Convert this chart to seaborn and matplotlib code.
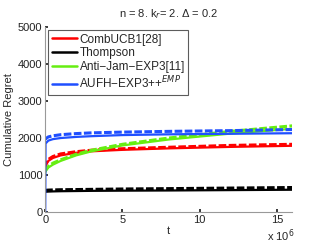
import matplotlib
matplotlib.use("Agg")
import matplotlib.pyplot as plt
import seaborn as sns
import pandas as pd
from matplotlib.lines import Line2D

sns.set_theme(style="white")
plt.rcParams['font.family'] = ['Liberation Sans', 'DejaVu Sans']

t = [0.0, 0.02, 0.2, 0.5, 1, 2, 3, 5, 8, 12, 16]

names = ["CombUCB1[28]", "Thompson", "Anti\u2212Jam\u2212EXP3[11]", "AUFH\u2212EXP3++$^{EMP}$"]
colors = ["#ff0000", "#000000", "#66ee11", "#1f4fff"]

red_solid = [1150, 1250, 1380, 1460, 1530, 1600, 1640, 1680, 1720, 1760, 1790]
red_dash = [1180, 1280, 1420, 1500, 1570, 1630, 1670, 1710, 1750, 1800, 1830]
black_solid = [540, 545, 550, 555, 560, 565, 570, 575, 580, 590, 600]
black_dash = [580, 585, 590, 595, 600, 605, 610, 620, 630, 645, 660]
green_solid = [1050, 1100, 1200, 1280, 1380, 1530, 1640, 1800, 1960, 2120, 2250]
green_dash = [1090, 1130, 1230, 1320, 1410, 1560, 1670, 1830, 2000, 2180, 2330]
blue_solid = [0, 1850, 1930, 1970, 2000, 2030, 2050, 2080, 2100, 2115, 2130]
blue_dash = [1950, 1980, 2030, 2060, 2090, 2120, 2140, 2160, 2180, 2200, 2230]

solids = [red_solid, black_solid, green_solid, blue_solid]
dashes = [red_dash, black_dash, green_dash, blue_dash]

fig, ax = plt.subplots(figsize=(3.23, 2.43), dpi=100)
fig.subplots_adjust(left=0.14, right=0.905, top=0.888, bottom=0.128)

for sol, das, c in zip(solids, dashes, colors):
    df_s = pd.DataFrame({"t": t, "y": sol})
    df_d = pd.DataFrame({"t": t, "y": das})
    sns.lineplot(data=df_d, x="t", y="y", ax=ax, color=c, lw=2.2,
                 linestyle=(0, (2.5, 0.8)), estimator=None, legend=False)
    sns.lineplot(data=df_s, x="t", y="y", ax=ax, color=c, lw=1.6,
                 estimator=None, legend=False)

ax.set_xlim(0, 16)
ax.set_ylim(0, 5000)
ax.set_xticks([0, 5, 10, 15])
ax.set_yticks([0, 1000, 2000, 3000, 4000, 5000])
ax.tick_params(labelsize=8, length=2, direction="in", pad=2, colors="#222222")
ax.tick_params(axis="both", which="both", bottom=True, left=True)
for s in ["top", "right"]:
    ax.spines[s].set_visible(False)
for s in ["left", "bottom"]:
    ax.spines[s].set_color("#999999")
    ax.spines[s].set_linewidth(0.8)

ax.set_xlabel("t", fontsize=8, labelpad=1)
ax.set_ylabel("Cumulative Regret", fontsize=8, labelpad=3)
ax.set_title("n = 8. k$_r$= 2. \u0394 = 0.2", fontsize=8, pad=7)
ax.text(0.955, -0.155, "x 10$^6$", transform=ax.transAxes, fontsize=8,
        ha="center", va="baseline")

handles = [Line2D([0], [0], color=c, lw=1.8) for c in colors]
leg = ax.legend(handles, names, loc="upper left", fontsize=8.5, frameon=True,
                fancybox=False, edgecolor="#333333", handlelength=2.1,
                handletextpad=0.25, borderpad=0.3, labelspacing=0.15,
                bbox_to_anchor=(0.012, 0.985), borderaxespad=0)
leg.get_frame().set_linewidth(0.8)

fig.savefig("out.png", dpi=100)
